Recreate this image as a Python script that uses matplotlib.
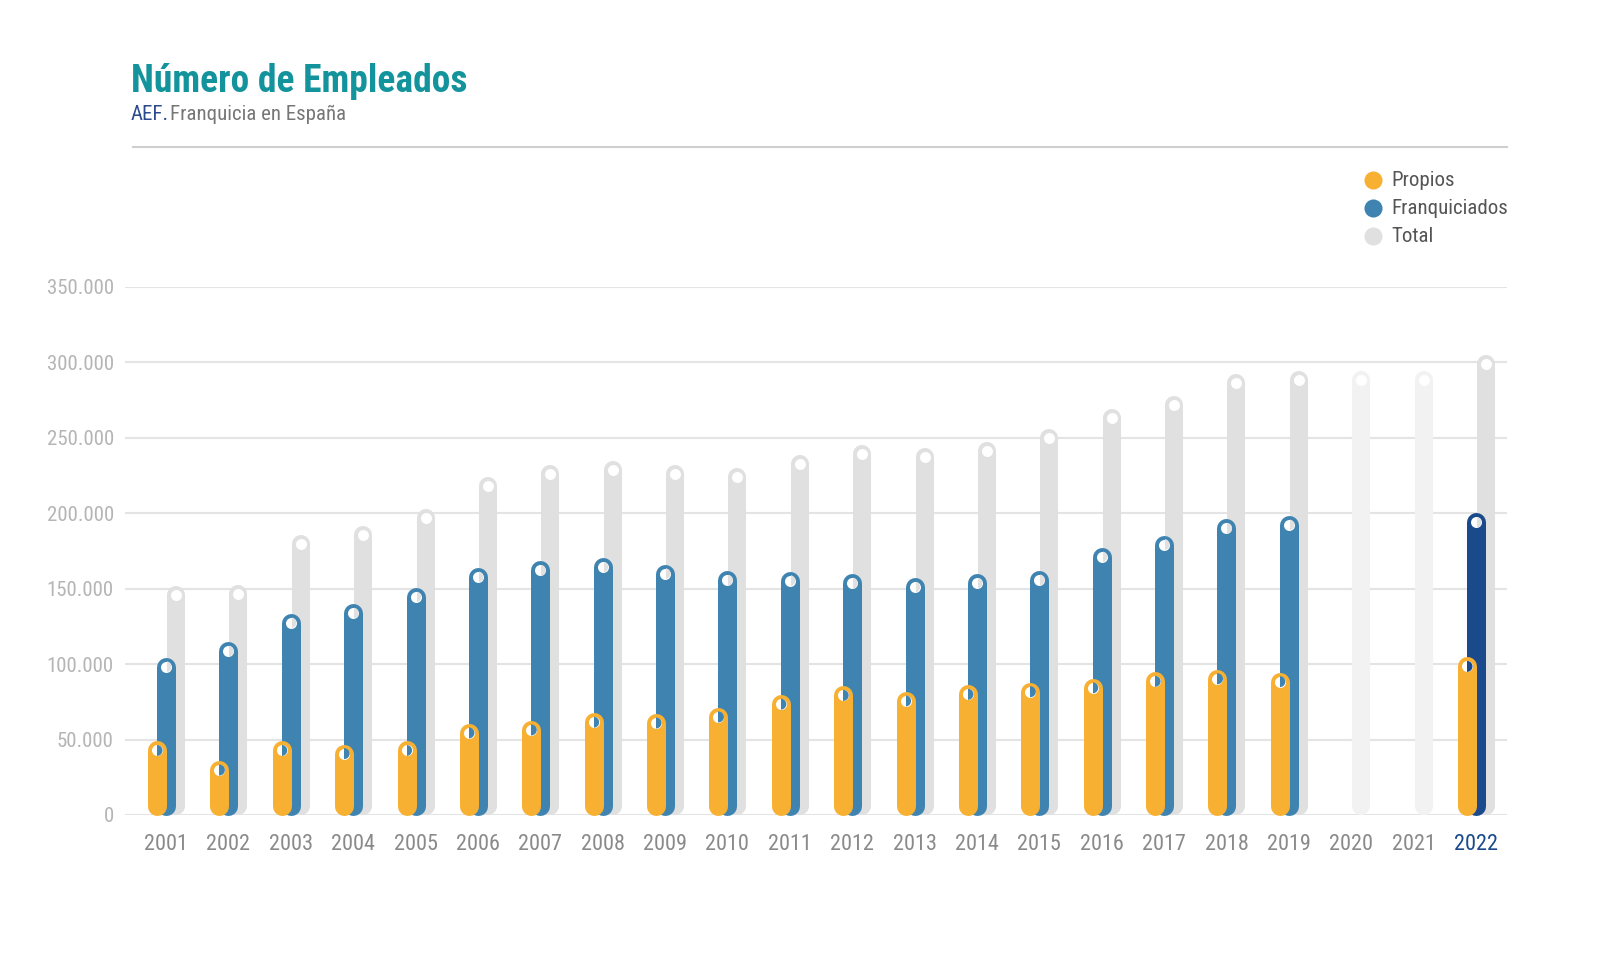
import numpy as np
import matplotlib
matplotlib.use('Agg')
import matplotlib.pyplot as plt
from matplotlib.lines import Line2D
from matplotlib.patches import Ellipse
from matplotlib.ticker import FuncFormatter

plt.rcParams['font.family'] = ['Roboto Condensed', 'Archivo Narrow', 'PT Sans Narrow',
                               'Liberation Sans Narrow', 'Roboto', 'DejaVu Sans']

years = list(range(2001, 2023))
total = [145700, 146800, 179700, 185700, 197000, 218200, 226200, 228400, 226200, 224200, 233000,
         239200, 237100, 241400, 250000, 262900, 271600, 286200, 288400, 288100, 288100, 299100]
franquiciados = [98300, 108600, 127400, 133800, 144600, 157800, 162100, 164300, 160000, 155600, 155400,
                 153700, 151000, 153700, 155800, 171100, 179300, 190000, 192300, None, None, 194000]
propios = [42800, 29800, 42800, 40700, 42800, 54400, 56400, 61500, 61000, 65000, 73500,
           79300, 75600, 80000, 81700, 84300, 88600, 90300, 88400, None, None, 98500]
missing_years = [2020, 2021]
highlight_year = 2022

c_prop = '#f7b032'
c_franq = '#3f84b1'
c_franq_hl = '#1b4a8c'
c_total = '#e0e0e0'
c_total_pale = '#f2f2f2'
c_grid = '#e4e4e4'

W, H = 1600, 975
fig = plt.figure(figsize=(16, 9.75), dpi=100)
fig.patch.set_facecolor('white')

# axes in pixel terms
x0, x1, ytop, ybot = 125, 1507, 287, 815
ax = fig.add_axes([x0 / W, (H - ybot) / H, (x1 - x0) / W, (ybot - ytop) / H])

px_per_year = (1476 - 166) / 21
ax.set_xlim(2001 - (166 - x0) / px_per_year, 2022 + (x1 - 1476) / px_per_year)
ax.set_ylim(0, 350000)

data_per_px = 350000 / (ybot - ytop)
lw_px = 19
r = lw_px / 2 * data_per_px
lw_pt = lw_px * 72 / 100
off_o = -9 / px_per_year
off_g = 10 / px_per_year
hole_px = 11


def bar(x, v, col, z, lw=lw_pt):
    return ax.plot([x, x], [r, v], color=col, lw=lw, solid_capstyle='round',
                   zorder=z, clip_on=False)[0]


def hole(x, v, z, under):
    # white dot that lets the bars underneath show through
    ax.plot(x, v, 'o', color='white', ms=hole_px * 0.72, mew=0, zorder=z)
    for ux, uv, ucol, ulw in under:
        e = Ellipse((x, v), hole_px / px_per_year, hole_px * data_per_px,
                    transform=ax.transData, fc='none', ec='none')
        ax.add_patch(e)
        ln = ax.plot([ux, ux], [r, uv], color=ucol, lw=ulw, solid_capstyle='round',
                     zorder=z + 0.1)[0]
        ln.set_clip_path(e)


for i, yr in enumerate(years):
    gcol = c_total_pale if yr in missing_years else c_total
    xg, xb, xo = yr + off_g, yr, yr + off_o
    bar(xg, total[i], gcol, 2, lw_pt * 0.95)
    hole(xg, total[i], 2.5, [])
    if franquiciados[i] is not None:
        fc = c_franq_hl if yr == highlight_year else c_franq
        bar(xb, franquiciados[i], fc, 3)
        hole(xb, franquiciados[i], 3.5, [(xg, total[i], gcol, lw_pt * 0.95)])
    if propios[i] is not None:
        bar(xo, propios[i], c_prop, 4)
        hole(xo, propios[i], 4.5, [(xb, franquiciados[i], fc, lw_pt)])

ax.set_yticks(np.arange(0, 350001, 50000))
ax.yaxis.set_major_formatter(FuncFormatter(lambda v, p: f'{int(v):,}'.replace(',', '.')))
ax.grid(axis='y', color=c_grid, lw=1.5, zorder=0)
ax.set_axisbelow(True)
ax.set_xticks(years)
ax.set_xticklabels([str(y) for y in years])
ax.tick_params(axis='y', length=0, labelsize=15, labelcolor='#b5b5b5', pad=8)
ax.tick_params(axis='x', length=0, labelsize=16, labelcolor='#8a8a8a', pad=14)
for lbl in ax.get_xticklabels():
    if lbl.get_text() == str(highlight_year):
        lbl.set_color(c_franq_hl)
for s in ax.spines.values():
    s.set_visible(False)

# title block
fig.text(131 / W, 1 - 82 / H, 'Número de Empleados', color='#13939c', fontsize=27,
         fontweight='bold', va='center', ha='left')
fig.text(131 / W, 1 - 114 / H, 'AEF.', color='#2c4a8e', fontsize=15, va='center', ha='left')
fig.text(170 / W, 1 - 114 / H, 'Franquicia en España', color='#777777', fontsize=15,
         va='center', ha='left')
fig.add_artist(Line2D([133 / W, 1507 / W], [1 - 147 / H, 1 - 147 / H],
                      transform=fig.transFigure, color='#cfcfcf', lw=1.5))

# legend
leg = [('Propios', c_prop), ('Franquiciados', c_franq), ('Total', c_total)]
for k, (name, col) in enumerate(leg):
    yy = 1 - (180 + 28 * k) / H
    fig.add_artist(Line2D([1373 / W], [yy], transform=fig.transFigure, marker='o',
                          color=col, ms=13, mew=0, ls='none'))
    fig.text(1391 / W, yy, name, color='#555555', fontsize=15, va='center', ha='left')

fig.savefig('out.png', dpi=100, facecolor='white')
